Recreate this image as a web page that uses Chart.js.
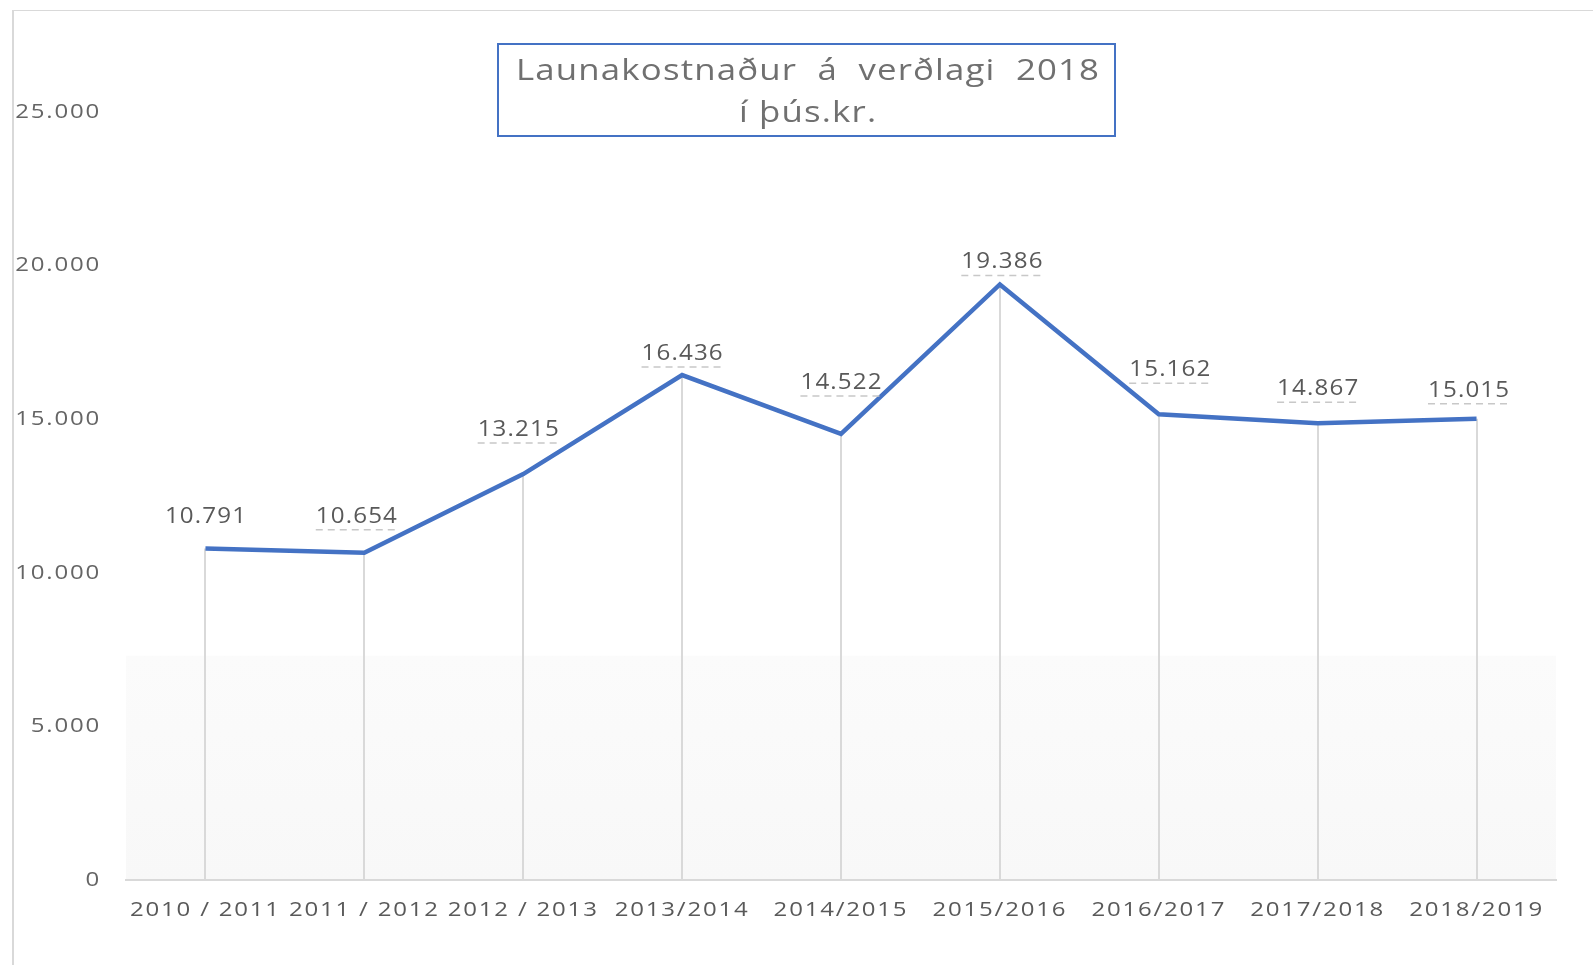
<!DOCTYPE html>
<html>
<head>
<meta charset="utf-8">
<script src="https://cdn.jsdelivr.net/npm/chart.js@4"></script>
<style>
html,body{margin:0;padding:0;background:#fff;overflow:hidden;}
#wrap{position:absolute;left:0;top:0;width:1593px;height:965px;}
#frame{position:absolute;left:12px;top:10px;width:1600px;height:1000px;border-left:2px solid #d9d9d9;border-top:1px solid #d9d9d9;box-sizing:border-box;pointer-events:none;}
</style>
</head>
<body>
<div id="wrap"><canvas id="c" width="1593" height="965"></canvas><div id="frame"></div></div>
<script>
const categories = ["2010 / 2011","2011 / 2012","2012 / 2013","2013/2014","2014/2015","2015/2016","2016/2017","2017/2018","2018/2019"];
const values = [10791, 10654, 13215, 16436, 14522, 19386, 15162, 14867, 15015];
const titleLines = ["Launakostnaður  á  verðlagi  2018", "í þús.kr."];
const yTicks = [0, 5000, 10000, 15000, 20000, 25000];

const fmt = v => v.toLocaleString('de-DE');
const FONT = "'Open Sans', 'Noto Sans', sans-serif";
const STRETCH = 1.2;

// axis tick text is drawn horizontally stretched, like the original picture
const stretchPlugin = {
  id: 'stretch',
  beforeDraw(chart) {
    const ctx = chart.ctx;
    ctx.letterSpacing = '1.5px';
    if (!ctx._origFill) ctx._origFill = ctx.fillText;
    const orig = ctx._origFill;
    ctx.fillText = function (t, x, y, mw) {
      this.save();
      this.translate(x, y);
      this.scale(STRETCH, 1);
      orig.call(this, t, 0, 0);
      this.restore();
    };
  },
  beforeDatasetsDraw(chart) {
    const ctx = chart.ctx;
    if (ctx._origFill) ctx.fillText = ctx._origFill;
    ctx.letterSpacing = '0px';
  }
};

// draws text horizontally stretched, centred on cx
function wideText(ctx, txt, cx, y, sx, spacing) {
  ctx.save();
  ctx.letterSpacing = spacing + 'px';
  const w = ctx.measureText(txt).width - spacing;
  ctx.translate(cx, y);
  ctx.scale(sx, 1);
  ctx.textAlign = 'left';
  ctx.fillText(txt, -w / 2, 0);
  ctx.restore();
  return w * sx;
}

const bgPlugin = {
  id: 'bg',
  beforeDraw(chart) {
    const {ctx, chartArea, scales} = chart;
    const yTop = scales.y.getPixelForValue(7300);
    ctx.save();
    const g = ctx.createLinearGradient(0, yTop, 0, chartArea.bottom);
    g.addColorStop(0, '#fbfbfb');
    g.addColorStop(1, '#f8f8f8');
    ctx.fillStyle = g;
    ctx.fillRect(chartArea.left, yTop, chartArea.right - chartArea.left, chartArea.bottom - yTop);
    ctx.restore();
  },
  beforeDatasetsDraw(chart) {
    const {ctx, scales} = chart;
    const meta = chart.getDatasetMeta(0);
    ctx.save();
    ctx.strokeStyle = '#d9d9d9';
    ctx.lineWidth = 2;
    meta.data.forEach(pt => {
      ctx.beginPath();
      ctx.moveTo(Math.round(pt.x), pt.y);
      ctx.lineTo(Math.round(pt.x), scales.y.getPixelForValue(0));
      ctx.stroke();
    });
    ctx.restore();
  }
};

const labelPlugin = {
  id: 'labels',
  afterDatasetsDraw(chart, args, opts) {
    const {ctx} = chart;
    const meta = chart.getDatasetMeta(0);
    ctx.save();
    ctx.font = "21px " + FONT;
    ctx.fillStyle = '#595959';
    ctx.textBaseline = 'middle';
    meta.data.forEach((pt, i) => {
      const txt = fmt(values[i]);
      const cx = pt.x + opts.dx[i];
      const y = pt.y - opts.dy[i];
      const w = wideText(ctx, txt, cx, y, 1.15, 1);
      if (i > 0) {
        ctx.save();
        ctx.strokeStyle = '#c8c8c8';
        ctx.lineWidth = 1.5;
        ctx.setLineDash([7, 5]);
        ctx.beginPath();
        ctx.moveTo(cx - w / 2, y + 13);
        ctx.lineTo(cx + w / 2, y + 13);
        ctx.stroke();
        ctx.restore();
      }
    });
    ctx.restore();
  },
  afterDraw(chart) {
    const {ctx} = chart;
    ctx.save();
    const bx = 498, by = 44, bw = 617, bh = 92;
    ctx.fillStyle = '#ffffff';
    ctx.fillRect(bx, by, bw, bh);
    ctx.strokeStyle = '#4472c4';
    ctx.lineWidth = 2;
    ctx.strokeRect(bx, by, bw, bh);
    ctx.font = "30px " + FONT;
    ctx.fillStyle = '#707070';
    ctx.textBaseline = 'alphabetic';
    const ys = [80, 122];
    titleLines.forEach((t, i) => wideText(ctx, t, bx + bw / 2 + 1, ys[i], 1.16, 1));
    ctx.restore();
  }
};

new Chart(document.getElementById('c'), {
  type: 'line',
  data: {
    labels: categories,
    datasets: [{
      data: values,
      borderColor: '#4472c4',
      borderWidth: 4.5,
      pointRadius: 0,
      pointHoverRadius: 0,
      tension: 0,
      fill: false
    }]
  },
  options: {
    responsive: false,
    animation: false,
    events: [],
    layout: { padding: { left: 0, right: 37, top: 112, bottom: 0 } },
    plugins: {
      legend: { display: false }, tooltip: { enabled: false }, title: { display: false },
      labels: {
        dx: [0, -8, -5, 0, 0, 2, 11, 0, -8],
        dy: [31, 36, 44, 21, 51, 22, 44, 34, 28]
      }
    },
    scales: {
      x: {
        offset: true,
        grid: { display: false, drawTicks: false },
        border: { display: true, color: '#d9d9d9', width: 2 },
        ticks: { color: '#595959', font: { size: 20, family: FONT }, padding: 18, maxRotation: 0, autoSkip: false },
        afterFit: s => { s.height = 85; }
      },
      y: {
        min: 0,
        max: 25000,
        afterBuildTicks: s => { s.ticks = yTicks.map(v => ({ value: v })); },
        grid: { display: false, drawTicks: false },
        border: { display: false },
        ticks: { color: '#656565', font: { size: 20, family: FONT }, padding: 25, callback: v => fmt(v) },
        afterFit: s => { s.width = 126; }
      }
    }
  },
  plugins: [stretchPlugin, bgPlugin, labelPlugin]
});
</script>
</body>
</html>
